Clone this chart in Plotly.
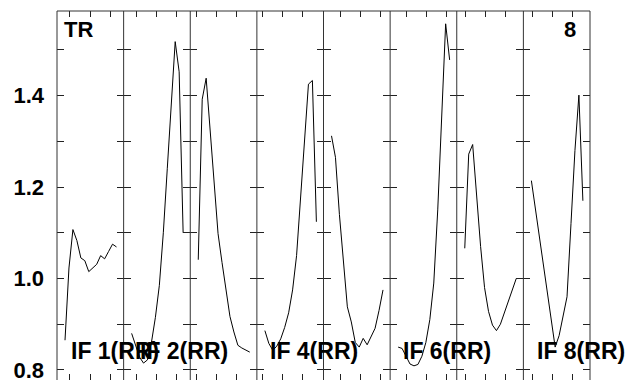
import plotly.graph_objects as go
from plotly.subplots import make_subplots

# ---- data ----
sample_index = list(range(14))
panel_values = {
    "IF 1": [0.865, 1.023, 1.107, 1.083, 1.045, 1.039, 1.015, 1.023, 1.031, 1.050, 1.043, 1.059, 1.075, 1.069],
    "IF 2": [0.880, 0.852, 0.828, 0.815, 0.822, 0.860, 0.915, 0.985, 1.100, 1.240, 1.390, 1.518, 1.452, 1.100],
    "IF 3": [1.041, 1.392, 1.438, 1.330, 1.210, 1.098, 1.035, 0.975, 0.917, 0.883, 0.854, 0.848, 0.844, 0.839],
    "IF 4": [0.886, 0.858, 0.843, 0.852, 0.868, 0.893, 0.925, 0.975, 1.050, 1.170, 1.310, 1.425, 1.433, 1.124],
    "IF 5": [1.312, 1.265, 1.140, 1.030, 0.938, 0.905, 0.860, 0.850, 0.869, 0.855, 0.872, 0.891, 0.930, 0.975],
    "IF 6": [0.850, 0.847, 0.830, 0.813, 0.809, 0.812, 0.830, 0.860, 0.910, 0.990, 1.150, 1.360, 1.557, 1.478],
    "IF 7": [1.066, 1.272, 1.293, 1.180, 1.070, 0.980, 0.928, 0.898, 0.886, 0.900, 0.925, 0.952, 0.978, 1.000],
    "IF 8": [1.214, 1.153, 1.091, 1.028, 0.967, 0.905, 0.850, 0.875, 0.915, 0.960, 1.120, 1.280, 1.401, 1.170],
}
panel_names = list(panel_values.keys())
bottom_labels = {"IF 1": "IF 1(RR)", "IF 2": "IF 2(RR)", "IF 4": "IF 4(RR)",
                 "IF 6": "IF 6(RR)", "IF 8": "IF 8(RR)"}
corner_left = "TR"
corner_right = "8"
y_tick_values = [0.8, 0.9, 1.0, 1.1, 1.2, 1.3, 1.4, 1.5]
y_tick_text = ["<b>0.8</b>", "", "<b>1.0</b>", "", "<b>1.2</b>", "", "<b>1.4</b>", ""]
x_tick_positions = [
    [1.26, 6.31, 11.36], [1.19, 6.24, 11.29], [-0.4, 4.65, 9.7], [-0.5, 4.55, 9.6],
    [2.37, 7.42, 12.47], [2.17, 7.22, 12.27], [0.25, 5.3, 10.35], [0.25, 5.3, 10.35],
]

FONT = "Arial, Liberation Sans, Helvetica, sans-serif"
W, H = 634, 380
ML, MR, MT, MB = 57, 44, 11, 0
PW, PH = W - ML - MR, H - MT - MB

fig = make_subplots(rows=1, cols=8, shared_yaxes=True, horizontal_spacing=0)

for k, name in enumerate(panel_names):
    fig.add_trace(
        go.Scatter(x=sample_index, y=panel_values[name], mode="lines",
                   line=dict(color="black", width=1), showlegend=False,
                   hoverinfo="skip"),
        row=1, col=k + 1)
    fig.update_xaxes(range=[-2.02, 14.8], tickvals=x_tick_positions[k],
                     ticks="inside", ticklen=6, tickwidth=1, tickcolor="#222",
                     mirror="ticks", showline=False, showgrid=False,
                     zeroline=False, showticklabels=False, automargin=False,
                     row=1, col=k + 1)
    fig.update_yaxes(range=[0.778, 1.585], tickvals=y_tick_values,
                     ticktext=y_tick_text, ticks="inside", ticklen=7,
                     tickwidth=1, tickcolor="#222", mirror="ticks",
                     showline=False, showgrid=False, zeroline=False,
                     automargin=False, row=1, col=k + 1)

fig.update_yaxes(showticklabels=True, ticklabelstandoff=12, ticklabeloverflow="allow",
                 tickfont=dict(family=FONT, size=22, color="black"),
                 row=1, col=1)

# frame and panel separators
shapes = []
for k in range(9):
    shapes.append(dict(type="line", xref="paper", yref="paper", x0=k / 8, x1=k / 8,
                       y0=0, y1=1, line=dict(color="#333", width=1)))
shapes.append(dict(type="line", xref="paper", yref="paper", x0=0, x1=1, y0=1, y1=1,
                   line=dict(color="#333", width=1)))


def px_to_paper(px, py):
    return (px - ML) / PW, 1 - (py - MT) / PH


annotations = []
label_left_px = {"IF 1": 69, "IF 2": 138, "IF 4": 268, "IF 6": 401, "IF 8": 535}
for name, text in bottom_labels.items():
    xp, yp = px_to_paper(label_left_px[name], 350.5)
    annotations.append(dict(text="<b>" + text + "</b>", x=xp, y=yp, xref="paper", yref="paper",
                            xanchor="left", yanchor="middle", showarrow=False,
                            font=dict(family=FONT, size=23, color="black")))
xp, yp = px_to_paper(61.5, 29)
annotations.append(dict(text="<b>" + corner_left + "</b>", x=xp, y=yp, xref="paper", yref="paper",
                        xanchor="left", yanchor="middle", showarrow=False,
                        font=dict(family=FONT, size=22, color="black")))
xp, yp = px_to_paper(578, 30)
annotations.append(dict(text="<b>" + corner_right + "</b>", x=xp, y=yp, xref="paper", yref="paper",
                        xanchor="right", yanchor="middle", showarrow=False,
                        font=dict(family=FONT, size=22, color="black")))

fig.update_layout(width=W, height=H, margin=dict(l=ML, r=MR, t=MT, b=MB, pad=0, autoexpand=False),
                  paper_bgcolor="white", plot_bgcolor="white",
                  shapes=shapes, annotations=annotations, showlegend=False)

fig.write_html("out.html", config={"displayModeBar": False},
               post_script="document.body.style.margin='0';document.body.style.overflow='hidden';")
